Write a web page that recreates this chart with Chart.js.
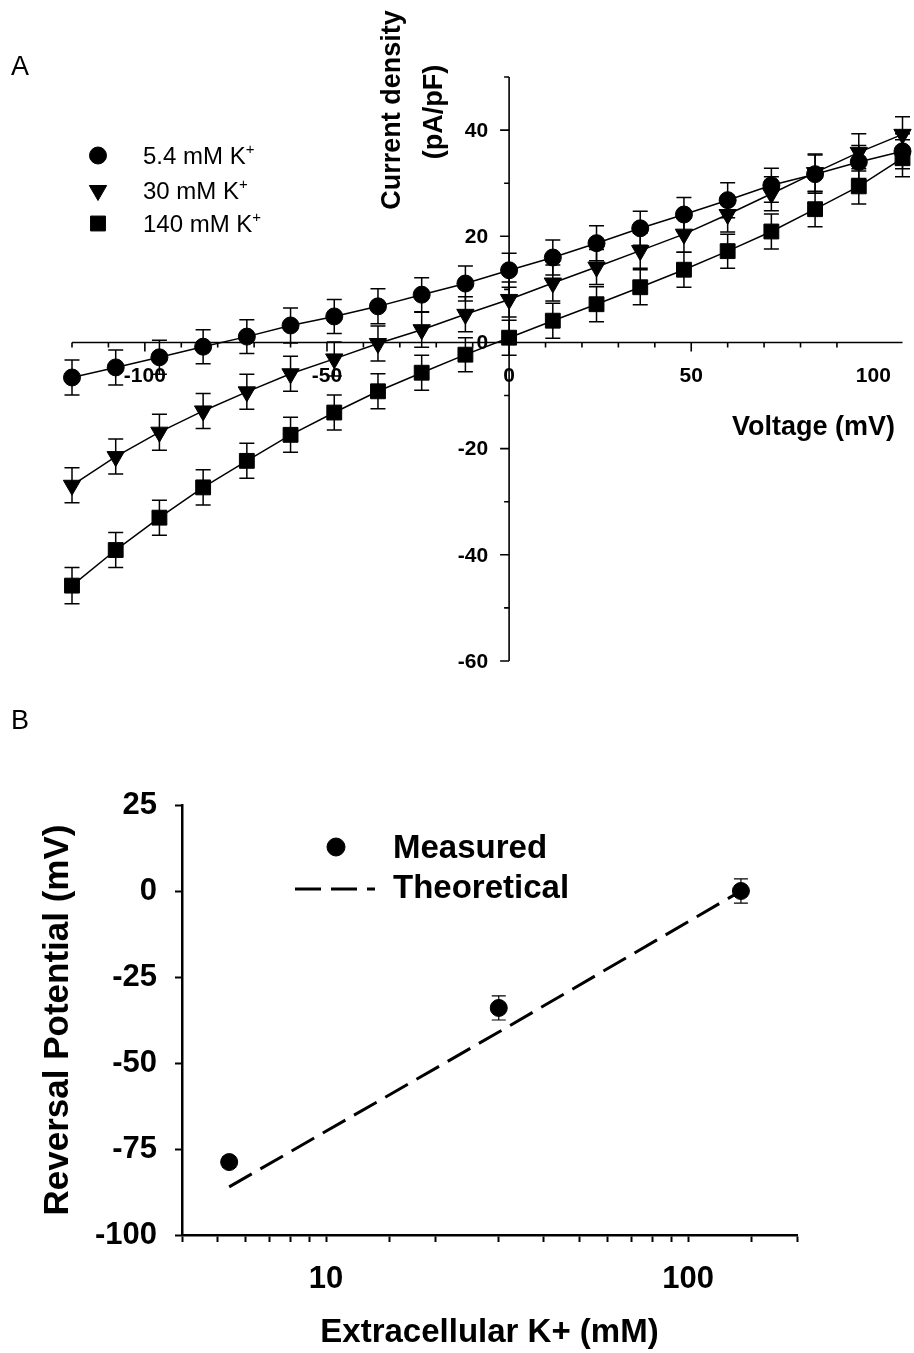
<!DOCTYPE html>
<html>
<head>
<meta charset="utf-8">
<title>K+ dependence of current density and reversal potential</title>
<script src="https://cdn.jsdelivr.net/npm/chart.js@4.4.1/dist/chart.umd.min.js"></script>
<style>
  body { margin: 0; background: #fff; }
  canvas { display: block; }
</style>
</head>
<body>
<canvas id="chart-a" width="914" height="700"></canvas>
<canvas id="chart-b" width="914" height="653"></canvas>
<script>
// ---- Panel A: current density vs voltage ----
const voltages = [-120, -108, -96, -84, -72, -60, -48, -36, -24, -12, 0, 12, 24, 36, 48, 60, 72, 84, 96, 108];
const k54Current = [-6.6, -4.7, -2.8, -0.8, 1.1, 3.2, 4.9, 6.8, 9.0, 11.1, 13.6, 16.0, 18.7, 21.5, 24.1, 26.8, 29.6, 31.7, 34.0, 36.0];
const k54Err = [3.3, 3.3, 3.2, 3.2, 3.2, 3.3, 3.2, 3.3, 3.2, 3.3, 3.2, 3.3, 3.3, 3.2, 3.2, 3.3, 3.2, 3.6, 3.1, 3.3];
const k30Current = [-26.9, -21.5, -16.9, -12.9, -9.3, -5.9, -3.1, -0.2, 2.4, 5.3, 8.1, 11.2, 14.2, 17.3, 20.4, 24.1, 28.0, 32.0, 35.8, 39.2];
const k30Err = [3.3, 3.3, 3.4, 3.3, 3.3, 3.3, 3.2, 3.3, 3.3, 3.3, 3.3, 3.4, 3.3, 3.3, 3.4, 3.3, 3.2, 3.5, 3.5, 3.3];
const k140Current = [-45.8, -39.1, -33.0, -27.3, -22.3, -17.4, -13.2, -9.2, -5.7, -2.3, 0.9, 4.1, 7.2, 10.4, 13.7, 17.2, 20.9, 25.1, 29.4, 34.7];
const k140Err = [3.4, 3.3, 3.3, 3.3, 3.3, 3.3, 3.3, 3.3, 3.3, 3.2, 3.3, 3.3, 3.3, 3.3, 3.3, 3.2, 3.3, 3.3, 3.3, 3.5];
const xLabelsA = [-100, -50, 0, 50, 100];
const yLabelsA = [-60, -40, -20, 0, 20, 40];

// ---- Panel B: reversal potential vs extracellular K+ ----
const kConc = [5.4, 30, 140];
const erevMeasured = [-78.8, -34.0, 0.0];
const erevErr = [1.5, 3.5, 3.5];
const erevTheory = [-86, -41, 0];
const xLabelsB = [10, 100];

const FONT = '"Liberation Sans", Arial, Helvetica, sans-serif';
Chart.defaults.font.family = FONT;
Chart.defaults.color = '#000';

function toPoints(xs, ys) {
  return xs.map((x, i) => ({ x: x, y: ys[i] }));
}

// marker helper for the hand-drawn legends
function mark(ctx, style, r, rot, x, y) {
  ctx.fillStyle = '#000';
  ctx.strokeStyle = '#000';
  ctx.lineWidth = 1;
  if (Chart.helpers && Chart.helpers.drawPoint) {
    Chart.helpers.drawPoint(ctx, { pointStyle: style, radius: r, rotation: rot, borderWidth: 1 }, x, y);
  } else {
    ctx.beginPath();
    ctx.arc(x, y, r, 0, Math.PI * 2);
    ctx.fill();
  }
}

// vertical error bars with caps, drawn under the markers
const errorBars = {
  id: 'errorBars',
  beforeDatasetsDraw(chart, args, opts) {
    const ctx = chart.ctx;
    ctx.save();
    ctx.strokeStyle = '#000';
    ctx.lineWidth = opts.width;
    chart.data.datasets.forEach((ds, di) => {
      if (!ds.errors) return;
      const meta = chart.getDatasetMeta(di);
      const yScale = chart.scales[meta.yAxisID];
      meta.data.forEach((pt, i) => {
        const v = ds.data[i].y;
        const e = ds.errors[i];
        const top = yScale.getPixelForValue(v + e);
        const bot = yScale.getPixelForValue(v - e);
        ctx.beginPath();
        ctx.moveTo(pt.x, top);
        ctx.lineTo(pt.x, bot);
        ctx.moveTo(pt.x - opts.cap, top);
        ctx.lineTo(pt.x + opts.cap, top);
        ctx.moveTo(pt.x - opts.cap, bot);
        ctx.lineTo(pt.x + opts.cap, bot);
        ctx.stroke();
      });
    });
    ctx.restore();
  }
};

// crossing axes through the origin for panel A
const axesA = {
  id: 'axesA',
  beforeDatasetsDraw(chart) {
    const { ctx, chartArea: a, scales: { x, y } } = chart;
    const x0 = x.getPixelForValue(0);
    const y0 = y.getPixelForValue(0);
    ctx.save();
    ctx.strokeStyle = '#000';
    ctx.lineWidth = 1.6;
    ctx.beginPath();
    ctx.moveTo(a.left, y0);
    ctx.lineTo(a.right, y0);
    ctx.moveTo(x0, a.top);
    ctx.lineTo(x0, a.bottom);
    x.ticks.forEach(t => {
      if (t.value % 10 !== 0) return;
      const px = x.getPixelForValue(t.value);
      ctx.moveTo(px, y0);
      ctx.lineTo(px, y0 + (t.value % 50 === 0 ? 9 : 5));
    });
    y.ticks.forEach(t => {
      if (t.value % 10 !== 0) return;
      const py = y.getPixelForValue(t.value);
      ctx.moveTo(x0, py);
      ctx.lineTo(x0 - (t.value % 20 === 0 ? 9 : 5), py);
    });
    ctx.stroke();

    ctx.fillStyle = '#000';
    ctx.font = 'bold 21px ' + FONT;
    ctx.textBaseline = 'middle';
    ctx.textAlign = 'center';
    xLabelsA.forEach(v => ctx.fillText(String(v), x.getPixelForValue(v), y0 + 34));
    ctx.textAlign = 'right';
    yLabelsA.forEach(v => ctx.fillText(String(v), x0 - 21, y.getPixelForValue(v) + 1));
    ctx.restore();
  },
  afterDraw(chart) {
    const ctx = chart.ctx;
    ctx.save();
    ctx.fillStyle = '#000';
    ctx.textBaseline = 'alphabetic';

    // panel letter
    ctx.font = '27px ' + FONT;
    ctx.textAlign = 'left';
    ctx.fillText('A', 11, 75);

    // axis titles
    ctx.font = 'bold 27px ' + FONT;
    ctx.fillText('Voltage (mV)', 732, 435);
    ctx.textAlign = 'center';
    ctx.save();
    ctx.translate(400, 110);
    ctx.rotate(-Math.PI / 2);
    ctx.fillText('Current density', 0, 0);
    ctx.restore();
    ctx.save();
    ctx.translate(442, 112);
    ctx.rotate(-Math.PI / 2);
    ctx.fillText('(pA/pF)', 0, 0);
    ctx.restore();

    // legend
    const rows = [164, 199, 232];
    chart.data.datasets.forEach((ds, i) => {
      const base = rows[i];
      mark(ctx, ds.pointStyle, ds.pointRadius, ds.pointRotation || 0, 98, base - 8.5);
      ctx.textAlign = 'left';
      ctx.fillStyle = '#000';
      ctx.font = '24px ' + FONT;
      const txt = ds.label.replace('+', '');
      ctx.fillText(txt, 143, base);
      const w = ctx.measureText(txt).width;
      ctx.font = '15px ' + FONT;
      ctx.fillText('+', 143 + w, base - 10);
    });
    ctx.restore();
  }
};

new Chart(document.getElementById('chart-a'), {
  type: 'line',
  data: {
    datasets: [
      {
        label: '5.4 mM K+',
        data: toPoints(voltages, k54Current),
        errors: k54Err,
        pointStyle: 'circle',
        pointRadius: 8.5
      },
      {
        label: '30 mM K+',
        data: toPoints(voltages, k30Current),
        errors: k30Err,
        pointStyle: 'triangle',
        pointRotation: 180,
        pointRadius: 10
      },
      {
        label: '140 mM K+',
        data: toPoints(voltages, k140Current),
        errors: k140Err,
        pointStyle: 'rect',
        pointRadius: 10.5
      }
    ].map(ds => Object.assign({
      borderColor: '#000',
      backgroundColor: '#000',
      pointBackgroundColor: '#000',
      pointBorderColor: '#000',
      pointBorderWidth: 1,
      borderWidth: 1.5,
      tension: 0,
      clip: false
    }, ds))
  },
  options: {
    responsive: false,
    animation: false,
    layout: { padding: { left: 72, right: 7, top: 77, bottom: 39 } },
    plugins: {
      legend: { display: false },
      tooltip: { enabled: false },
      errorBars: { cap: 7.5, width: 1.5 }
    },
    scales: {
      x: { type: 'linear', min: -120, max: 108, display: false, ticks: { stepSize: 10 } },
      y: { type: 'linear', min: -60, max: 50, display: false, ticks: { stepSize: 10 } }
    }
  },
  plugins: [axesA, errorBars]
});

// legend and panel letter for panel B
const legendB = {
  id: 'legendB',
  afterDraw(chart) {
    const ctx = chart.ctx;
    ctx.save();
    ctx.fillStyle = '#000';
    ctx.textBaseline = 'alphabetic';
    ctx.textAlign = 'left';
    ctx.font = '27px ' + FONT;
    ctx.fillText('B', 11, 29);

    mark(ctx, 'circle', 9, 0, 336, 147);
    ctx.strokeStyle = '#000';
    ctx.lineWidth = 3;
    ctx.setLineDash([26, 10]);
    ctx.beginPath();
    ctx.moveTo(295, 189);
    ctx.lineTo(375, 189);
    ctx.stroke();
    ctx.setLineDash([]);

    ctx.font = 'bold 33px ' + FONT;
    ctx.fillText('Measured', 393, 158);
    ctx.fillText('Theoretical', 393, 198);
    ctx.restore();
  }
};

new Chart(document.getElementById('chart-b'), {
  type: 'line',
  data: {
    datasets: [
      {
        label: 'Measured',
        data: toPoints(kConc, erevMeasured),
        errors: erevErr,
        showLine: false,
        pointStyle: 'circle',
        pointRadius: 8.5,
        pointBackgroundColor: '#000',
        pointBorderColor: '#000',
        pointBorderWidth: 1
      },
      {
        label: 'Theoretical',
        data: toPoints(kConc, erevTheory),
        borderColor: '#000',
        borderWidth: 3,
        borderDash: [26, 10],
        pointRadius: 0,
        tension: 0
      }
    ]
  },
  options: {
    responsive: false,
    animation: false,
    layout: { padding: { left: 0, right: 117, top: 105, bottom: 0 } },
    plugins: {
      legend: { display: false },
      tooltip: { enabled: false },
      errorBars: { cap: 7, width: 1.2 }
    },
    scales: {
      x: {
        type: 'logarithmic',
        min: 4,
        max: 200,
        afterFit(scale) { scale.height = 118; },
        border: { display: true, color: '#000', width: 2.5 },
        grid: { drawOnChartArea: false, drawTicks: true, tickLength: 7, tickWidth: 2, tickColor: '#000' },
        ticks: {
          autoSkip: false,
          maxRotation: 0,
          padding: 19,
          font: { size: 31, weight: 'bold' },
          callback: v => xLabelsB.find(l => Math.abs(l - v) < 1e-6) ? String(v) : ''
        },
        title: {
          display: true,
          text: 'Extracellular K+ (mM)',
          font: { size: 33, weight: 'bold' },
          padding: { top: 0, bottom: 0 }
        }
      },
      y: {
        type: 'linear',
        min: -100,
        max: 25,
        afterFit(scale) { scale.width = 182; },
        border: { display: true, color: '#000', width: 2.5 },
        grid: { drawOnChartArea: false, drawTicks: true, tickLength: 7, tickWidth: 2, tickColor: '#000' },
        ticks: {
          stepSize: 25,
          padding: 18,
          font: { size: 31, weight: 'bold' }
        },
        title: {
          display: true,
          text: 'Reversal Potential (mV)',
          font: { size: 35, weight: 'bold' },
          padding: { top: 37, bottom: 0 }
        }
      }
    }
  },
  plugins: [errorBars, legendB]
});
</script>
</body>
</html>
